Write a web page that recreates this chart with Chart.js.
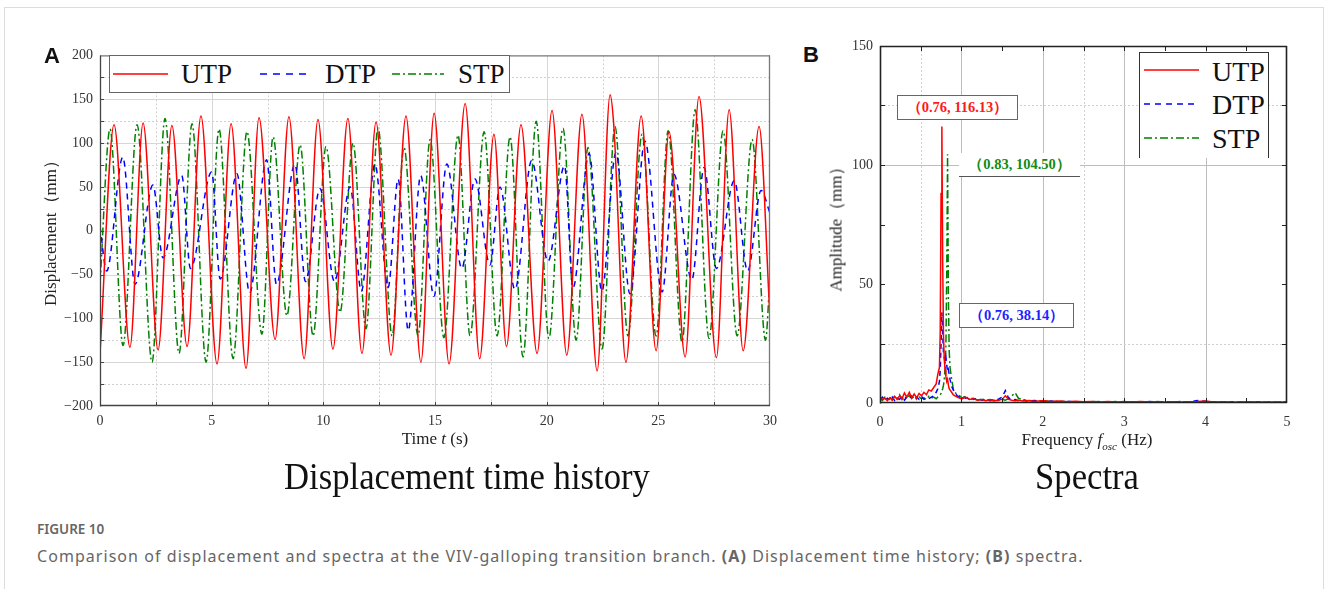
<!DOCTYPE html>
<html><head><meta charset="utf-8">
<script src="https://cdn.jsdelivr.net/npm/chart.js@4.4.1/dist/chart.umd.min.js"></script>
<style>
html,body{margin:0;padding:0;background:#fff;}
body{width:1328px;height:589px;position:relative;overflow:hidden;font-family:"Liberation Serif","DejaVu Serif",serif;color:#222;}
.abs{position:absolute;}
.c{position:absolute;transform:translate(-50%,-50%);white-space:nowrap;}
#frame{left:4px;top:7px;width:1318px;height:640px;border:1px solid #dcdcdc;}
.panel{font-family:"Liberation Sans",Arial,sans-serif;font-weight:bold;font-size:22px;color:#111;}
.axt{font-size:17px;color:#222;}
.rot{transform:translate(-50%,-50%) rotate(-90deg);}
.big{font-size:37px;color:#111;transform:translate(-50%,-50%) scaleX(0.937);}
.leg{position:absolute;background:#fff;}
.legtxt{position:absolute;transform:translateY(-50%);white-space:nowrap;color:#111;}
.ann{position:absolute;background:#fff;font-weight:bold;font-size:14.5px;display:flex;align-items:center;justify-content:center;white-space:nowrap;box-sizing:border-box;}
.cap{font-family:"Noto Sans","Open Sans",sans-serif;color:#666;white-space:nowrap;}
</style></head><body>
<div id="frame" class="abs"></div>

<div class="abs" style="left:40px;top:40px;width:750px;height:400px;"><canvas id="c1" width="750" height="400"></canvas></div>
<div class="abs" style="left:820px;top:30px;width:490px;height:420px;"><canvas id="c2" width="490" height="420"></canvas></div>

<div class="c panel" style="left:52px;top:56px;">A</div>
<div class="c panel" style="left:811px;top:55px;">B</div>

<div class="c axt rot" style="left:50px;top:229px;">Displacement（mm）</div>
<div class="c axt" style="left:435px;top:439px;">Time <i>t</i> (s)</div>
<div class="c axt rot" style="left:836px;top:225px;">Amplitude（mm）</div>
<div class="c axt" style="left:1087px;top:441px;">Frequency <i>f</i><sub style="font-size:11px;"><i>osc</i></sub> (Hz)</div>

<div class="c big" style="left:467px;top:476px;">Displacement time history</div>
<div class="c big" style="left:1087px;top:476px;">Spectra</div>

<!-- legend A -->
<div class="leg" style="left:109px;top:55px;width:399px;height:36px;border:1px solid #666;">
  <svg class="abs" style="left:2px;top:0;" width="400" height="36">
    <line x1="1" y1="18" x2="56" y2="18" stroke="#ff0000" stroke-width="1.6"/>
    <line x1="148" y1="18" x2="200" y2="18" stroke="#0000ff" stroke-width="1.6" stroke-dasharray="7,6"/>
    <line x1="280" y1="18" x2="332" y2="18" stroke="#008000" stroke-width="1.6" stroke-dasharray="8,3,2,3"/>
  </svg>
  <div class="legtxt" style="left:71px;top:18px;font-size:27px;">UTP</div>
  <div class="legtxt" style="left:215px;top:18px;font-size:27px;">DTP</div>
  <div class="legtxt" style="left:348px;top:18px;font-size:27px;">STP</div>
</div>

<!-- legend B -->
<div class="leg" style="left:1139px;top:52px;width:128px;height:105px;border:1px solid #333;border-bottom:none;">
  <svg class="abs" style="left:0;top:0;" width="128" height="105">
    <line x1="4" y1="17" x2="59" y2="17" stroke="#ff0000" stroke-width="1.6"/>
    <line x1="4" y1="51" x2="59" y2="51" stroke="#0000ff" stroke-width="1.6" stroke-dasharray="6,5"/>
    <line x1="4" y1="85" x2="59" y2="85" stroke="#008000" stroke-width="1.6" stroke-dasharray="8,3,2,3"/>
  </svg>
  <div class="legtxt" style="left:72px;top:19px;font-size:28px;">UTP</div>
  <div class="legtxt" style="left:72px;top:52px;font-size:28px;">DTP</div>
  <div class="legtxt" style="left:72px;top:86px;font-size:28px;">STP</div>
</div>

<div class="ann" style="left:897px;top:95px;width:121px;height:25px;border:1px solid #666;color:#ff1a1a;">（0.76, 116.13）</div>
<div class="ann" style="left:959px;top:153px;width:121px;height:24px;border-bottom:1px solid #555;color:#138a13;">（0.83, 104.50）</div>
<div class="ann" style="left:959px;top:303px;width:115px;height:25px;border:1px solid #666;color:#1f1fff;">（0.76, 38.14）</div>

<div class="abs cap" style="left:37px;top:520px;font-size:13.5px;font-weight:600;">FIGURE 10</div>
<div class="abs cap" style="left:37px;top:545px;font-size:16px;letter-spacing:1.05px;">Comparison of displacement and spectra at the VIV-galloping transition branch. <b>(A)</b> Displacement time history; <b>(B)</b> spectra.</div>

<script>
// ---------- Panel A: displacement time history (extremes of each cycle) ----------
const utpTime = [0,0.63,1.34,1.93,2.6,3.22,3.9,4.52,5.24,5.87,6.54,7.12,7.84,8.46,9.14,9.76,10.43,11.1,11.73,12.36,13.03,13.7,14.37,14.96,15.63,16.35,17.0,17.64,18.2,18.85,19.57,20.24,20.9,21.58,22.26,22.84,23.0,23.55,24.23,24.9,25.48,26.2,26.82,27.6,28.17,28.8,29.51,30];
const utpDisp = [-140,121,-133,123,-136,120,-132,131,-152,122,-157,129,-124,130,-146,127,-135,128,-140,124,-142,131,-150,134,-152,145,-146,110,-132,121,-140,137,-142,133,-160,155,122,-150,131,-137,113,-144,153,-145,138,-137,119,-100];

const dtpTime = [0,0.3,1.02,1.57,2.37,2.82,3.66,4.05,5.0,5.38,6.13,6.7,7.46,7.9,8.73,9.2,9.85,10.5,11.2,11.7,12.31,12.9,13.35,13.8,14.36,14.95,15.53,16.2,16.79,17.46,17.91,18.58,19.33,20.06,20.8,21.18,21.9,22.47,23.1,23.73,24.4,25.17,25.7,26.5,27.05,27.6,28.4,29.0,29.6,30];
const dtpDisp = [5,-46,84,-61,52,-31,63,-43,67,-55,65,-71,81,-61,76,-58,48,-58,50,-69,76,-65,59,-114,63,-75,76,-43,59,-39,50,-67,80,-35,74,-65,88,-69,89,-72,102,-70,64,-56,72,-43,57,-46,46,20];

const stpTime = [0,0.45,1.03,1.66,2.33,2.91,3.54,4.12,4.75,5.33,5.96,6.58,7.25,7.75,8.37,8.96,9.54,10.12,10.75,11.33,11.91,12.45,13.08,13.61,14.24,14.78,15.4,16.03,16.57,17.2,17.78,18.36,18.94,19.53,20.1,20.73,21.32,21.85,22.48,23.06,23.64,24.27,24.9,25.44,26.06,26.65,27.27,27.9,28.53,29.2,29.8,30];
const stpDisp = [-60,116,-131,121,-150,128,-140,122,-150,116,-146,113,-118,107,-97,98,-120,96,-93,100,-112,117,-120,95,-120,104,-122,109,-120,113,-120,107,-144,125,-123,117,-125,95,-135,119,-120,110,-120,114,-127,138,-123,114,-120,104,-125,-50];

const timeTicksMajor = [5,10,15,20,25];
const timeTicksMinor = [2.5,7.5,12.5,17.5,22.5,27.5];
const dispTicksMajor = [-150,-100,-50,0,50,100,150];
const dispTicksMinor = [-175,-125,-75,-25,25,75,125,175];

// ---------- Panel B: spectra ----------
const specFreq = [0,0.03,0.06,0.09,0.12,0.15,0.18,0.21,0.24,0.27,0.30,0.33,0.36,0.39,0.42,0.45,0.48,0.51,0.54,0.57,0.60,0.63,0.66,0.69,0.71,0.73,0.74,0.75,0.76,0.77,0.78,0.79,0.80,0.81,0.82,0.83,0.84,0.85,0.86,0.88,0.90,0.92,0.95,0.98,1.01,1.05,1.10,1.15,1.20,1.25,1.30,1.35,1.40,1.45,1.50,1.54,1.58,1.62,1.66,1.70,1.75,1.80,1.90,2.0,2.1,2.2,2.3,2.4,2.5,2.6,2.7,2.8,2.9,3.0,3.1,3.2,3.3,3.4,3.5,3.6,3.7,3.8,3.9,4.0,4.1,4.2,4.3,4.4,4.5,4.6,4.7,4.8,4.9,5.0];
const utpAmp = [2.5,1.5,2.0,1.0,2.2,1.2,2.8,1.5,3.0,1.8,4.2,2.5,4.5,2.0,3.8,2.2,4.0,3.0,4.5,3.5,5.5,5.0,6.5,8.0,12.0,15.0,30.0,88.0,116.13,60.0,28.0,18.0,14.0,11.0,9.0,10.0,7.5,6.0,5.5,4.5,3.5,3.0,2.5,2.0,1.8,2.5,1.5,1.8,1.2,1.5,1.0,1.4,0.9,1.2,1.5,3.0,1.5,1.2,1.0,1.2,0.8,1.0,0.7,0.9,0.6,0.8,0.5,0.7,0.5,0.6,0.4,0.6,0.4,0.5,0.4,0.6,0.4,0.5,0.3,0.5,0.4,0.5,0.6,0.8,0.4,0.5,0.4,0.3,0.5,0.3,0.4,0.3,0.4,0.3];
const dtpAmp = [1.5,2.5,1.0,2.0,1.2,2.5,1.0,2.0,1.5,2.8,1.2,2.5,1.8,3.0,1.5,2.5,1.5,2.8,1.5,2.0,1.8,2.5,3.0,4.5,6.0,9.0,14.0,25.0,38.14,29.0,21.0,19.0,17.0,19.0,16.0,13.0,14.0,12.0,10.0,7.0,5.5,4.0,3.0,2.5,3.0,2.0,2.5,1.5,2.0,1.2,1.5,1.0,1.2,1.5,2.5,5.2,2.0,1.2,1.5,1.0,1.2,0.8,1.0,0.6,0.8,0.5,0.7,0.5,0.6,0.4,0.6,0.5,0.4,0.6,0.4,0.5,0.6,0.4,0.5,0.4,0.6,0.5,1.0,0.7,0.5,0.4,0.5,0.3,0.4,0.5,0.3,0.4,0.3,0.4];
const stpAmp = [2.0,1.0,2.5,1.5,2.8,1.2,3.0,2.0,3.5,1.5,3.0,1.8,3.2,2.0,2.8,1.5,2.5,1.8,2.2,1.5,2.8,2.0,2.5,1.8,2.5,3.0,3.5,4.0,5.0,6.0,7.5,10.0,15.0,25.0,55.0,104.5,45.0,22.0,15.0,10.0,6.0,4.5,3.5,3.0,2.0,2.8,1.5,2.0,1.2,1.8,1.0,1.5,1.2,1.0,1.5,1.2,1.8,3.0,4.3,2.0,1.5,1.2,0.8,1.0,0.6,0.8,0.5,0.6,0.4,0.6,0.5,0.4,0.6,0.4,0.5,0.4,0.5,0.6,0.4,0.3,0.5,0.4,0.5,0.4,0.3,0.5,0.3,0.4,0.3,0.4,0.5,0.3,0.4,0.3];

const freqTicksMajor = [1,2,3,4];
const freqTicksMinor = [0.5,2.5];
const ampTicksMajor = [100];
const ampTicksMinor = [25,125];
const freqTickMarks = [0.5,1,1.5,2,2.5,3,3.5,4,4.5];
const ampTickMarks = [25,50,75,100,125];

const seriesNames = ['UTP','DTP','STP'];
const seriesColors = ['#ff0000','#0000ff','#008000'];

function pts(xs, ys){ return xs.map((x,i)=>({x:x, y:ys[i]})); }
function seg(ctx,x1,y1,x2,y2){ctx.beginPath();ctx.moveTo(x1,y1);ctx.lineTo(x2,y2);ctx.stroke();}

const gridFrame = {
  id:'gridFrame',
  beforeDatasetsDraw(chart,args,o){
    const {ctx,chartArea:a,scales:{x,y}}=chart;
    ctx.save(); ctx.lineWidth=1;
    ctx.strokeStyle=o.majorColor; ctx.setLineDash([]);
    o.xMajor.forEach(v=>{const p=Math.round(x.getPixelForValue(v))+0.5; seg(ctx,p,a.top,p,a.bottom);});
    o.yMajor.forEach(v=>{const p=Math.round(y.getPixelForValue(v))+0.5; seg(ctx,a.left,p,a.right,p);});
    ctx.strokeStyle=o.minorColor; ctx.setLineDash([2,2]);
    o.xMinor.forEach(v=>{const p=Math.round(x.getPixelForValue(v))+0.5; seg(ctx,p,a.top,p,a.bottom);});
    o.yMinor.forEach(v=>{const p=Math.round(y.getPixelForValue(v))+0.5; seg(ctx,a.left,p,a.right,p);});
    ctx.restore();
  },
  afterDatasetsDraw(chart,args,o){
    const {ctx,chartArea:a,scales:{x,y}}=chart;
    ctx.save(); ctx.setLineDash([]);
    ctx.lineWidth=o.frameWidth;
    ctx.strokeStyle=o.sideColor;
    seg(ctx,a.left,a.top+0.5,a.right,a.top+0.5);
    seg(ctx,a.right-0.5,a.top,a.right-0.5,a.bottom);
    ctx.strokeStyle=o.frameColor;
    seg(ctx,a.left+0.5,a.top,a.left+0.5,a.bottom+0.5);
    seg(ctx,a.left,a.bottom-0.5,a.right,a.bottom-0.5);
    ctx.lineWidth=1;
    o.xTicks.forEach(v=>{const p=Math.round(x.getPixelForValue(v))+0.5;
      seg(ctx,p,a.bottom,p,a.bottom-o.tickLen);
      if(o.mirror) seg(ctx,p,a.top,p,a.top+o.tickLen);});
    o.yTicks.forEach(v=>{const p=Math.round(y.getPixelForValue(v))+0.5;
      seg(ctx,a.left,p,a.left+o.tickLen,p);
      if(o.mirror) seg(ctx,a.right,p,a.right-o.tickLen,p);});
    ctx.restore();
  }
};

const tickFont = {family:'"Liberation Serif", serif', size:14};
const minus = v => String(v).replace('-', '\u2212');

new Chart(document.getElementById('c1'), {
  type:'line',
  data:{datasets:[
    {label:seriesNames[0], data:pts(utpTime,utpDisp), borderColor:seriesColors[0], borderWidth:1.5, pointRadius:0, cubicInterpolationMode:'monotone'},
    {label:seriesNames[1], data:pts(dtpTime,dtpDisp), borderColor:seriesColors[1], borderWidth:1.5, pointRadius:0, cubicInterpolationMode:'monotone', borderDash:[6,5]},
    {label:seriesNames[2], data:pts(stpTime,stpDisp), borderColor:seriesColors[2], borderWidth:1.5, pointRadius:0, cubicInterpolationMode:'monotone', borderDash:[8,3,2,3]}
  ]},
  options:{
    responsive:false, animation:false, devicePixelRatio:1,
    layout:{padding:{left:0,top:12,right:20,bottom:0}},
    plugins:{legend:{display:false}, tooltip:{enabled:false},
      gridFrame:{xMajor:timeTicksMajor, xMinor:timeTicksMinor, yMajor:dispTicksMajor, yMinor:dispTicksMinor,
        majorColor:'#d6d6d6', minorColor:'#d0d0d0', frameColor:'#444', sideColor:'#777', frameWidth:1.3,
        xTicks:timeTicksMajor.concat(timeTicksMinor), yTicks:dispTicksMajor.concat(dispTicksMinor), tickLen:4, mirror:false}},
    scales:{
      x:{type:'linear', min:0, max:30, afterFit:s=>{s.height=34;},
        grid:{display:false, drawTicks:false, tickLength:0}, border:{display:false},
        ticks:{stepSize:5, padding:7, color:'#333', font:tickFont, maxRotation:0}},
      y:{type:'linear', min:-200, max:200, afterFit:s=>{s.width=60;},
        grid:{display:false, drawTicks:false, tickLength:0}, border:{display:false},
        ticks:{stepSize:50, padding:7, color:'#333', font:tickFont, callback:v=>minus(v)}}
    }
  },
  plugins:[gridFrame]
});

new Chart(document.getElementById('c2'), {
  type:'line',
  data:{datasets:[
    {label:seriesNames[0], data:pts(specFreq,utpAmp), borderColor:seriesColors[0], borderWidth:1.5, pointRadius:0, tension:0},
    {label:seriesNames[1], data:pts(specFreq,dtpAmp), borderColor:seriesColors[1], borderWidth:1.5, pointRadius:0, tension:0, borderDash:[5,4]},
    {label:seriesNames[2], data:pts(specFreq,stpAmp), borderColor:seriesColors[2], borderWidth:1.5, pointRadius:0, tension:0, borderDash:[8,3,2,3]}
  ]},
  options:{
    responsive:false, animation:false, devicePixelRatio:1,
    layout:{padding:{left:0,top:16,right:23,bottom:0}},
    plugins:{legend:{display:false}, tooltip:{enabled:false},
      gridFrame:{xMajor:freqTicksMajor, xMinor:freqTicksMinor, yMajor:ampTicksMajor, yMinor:ampTicksMinor,
        majorColor:'#bdbdbd', minorColor:'#cfcfcf', frameColor:'#222', sideColor:'#222', frameWidth:1.6,
        xTicks:freqTickMarks, yTicks:ampTickMarks, tickLen:5, mirror:true}},
    scales:{
      x:{type:'linear', min:0, max:5, afterFit:s=>{s.height=47;},
        grid:{display:false, drawTicks:false, tickLength:0}, border:{display:false},
        ticks:{stepSize:1, padding:11, color:'#333', font:tickFont, maxRotation:0}},
      y:{type:'linear', min:0, max:150, afterFit:s=>{s.width=60;},
        grid:{display:false, drawTicks:false, tickLength:0}, border:{display:false},
        ticks:{stepSize:50, padding:7, color:'#333', font:tickFont}}
    }
  },
  plugins:[gridFrame]
});
</script>
</body></html>
